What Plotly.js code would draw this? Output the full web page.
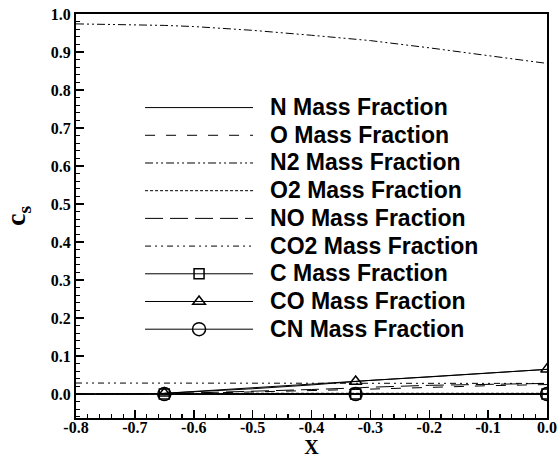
<!DOCTYPE html>
<html><head><meta charset="utf-8">
<script src="https://cdn.plot.ly/plotly-3.0.1.min.js"></script>
<style>
html,body{margin:0;padding:0;background:#fff;}
#chart{width:559px;height:459px;}
.legend .legendtext{font-size:23px !important;transform:translateX(12px);}
.legend .scrollbox{clip-path:none !important;}
</style></head><body><div id="chart"></div>
<script>
// x positions along the line
const xs  = [-0.8, -0.75, -0.7, -0.65, -0.6, -0.5, -0.4, -0.325, -0.3, -0.2, -0.1, 0.0];
// species mass fractions
const N   = [0, 0, 0, 0, 0, 0, 0, 0, 0, 0, 0, 0];
const O   = [0, 0, 0, 0.001, 0.002, 0.005, 0.009, 0.012, 0.013, 0.018, 0.022, 0.025];
const N2  = [0.974, 0.973, 0.972, 0.970, 0.967, 0.957, 0.944, 0.934, 0.930, 0.911, 0.891, 0.870];
const O2  = [0, 0, 0, 0.001, 0.001, 0.002, 0.002, 0.002, 0.002, 0.002, 0.002, 0.002];
const NO  = [0, 0, 0, 0.001, 0.003, 0.007, 0.012, 0.016, 0.018, 0.023, 0.026, 0.028];
const CO2 = [0.029, 0.029, 0.029, 0.029, 0.029, 0.029, 0.029, 0.029, 0.029, 0.028, 0.028, 0.028];
const C   = [0, 0, 0, 0, 0, 0, 0, 0, 0, 0, 0, 0];
const CO  = [0, 0, 0, 0.002, 0.006, 0.014, 0.024, 0.033, 0.036, 0.045, 0.055, 0.065];
const CN  = [0, 0, 0, 0, 0, 0, 0, 0, 0, 0, 0, 0];
// indices of the points that carry symbols
const markIdx = [3, 7, 11];
// tick labels
const xTickVals = [-0.8, -0.7, -0.6, -0.5, -0.4, -0.3, -0.2, -0.1, 0.0];
const xTickText = ['-0.8', '-0.7', '-0.6', '-0.5', '-0.4', '-0.3', '-0.2', '-0.1', '0.0'];
const yTickVals = [0.0, 0.1, 0.2, 0.3, 0.4, 0.5, 0.6, 0.7, 0.8, 0.9, 1.0];
const yTickText = ['0.0', '0.1', '0.2', '0.3', '0.4', '0.5', '0.6', '0.7', '0.8', '0.9', '1.0'];

const pick = arr => markIdx.map(i => arr[i]);

const plain = [
  {name: 'N Mass Fraction',   y: N,   dash: 'solid'},
  {name: 'O Mass Fraction',   y: O,   dash: '10px,11px'},
  {name: 'N2 Mass Fraction',  y: N2,  dash: '8px,3px,2px,3px,2px,3px'},
  {name: 'O2 Mass Fraction',  y: O2,  dash: '3px,2px'},
  {name: 'NO Mass Fraction',  y: NO,  dash: '18px,7px'},
  {name: 'CO2 Mass Fraction', y: CO2, dash: '6px,4px,2px,4px,2px,4px'}
];
const marked = [
  {name: 'C Mass Fraction',  y: C,  symbol: 'square-open',      size: 10},
  {name: 'CO Mass Fraction', y: CO, symbol: 'triangle-up-open', size: 11},
  {name: 'CN Mass Fraction', y: CN, symbol: 'circle-open',      size: 13}
];

const traces = [];
plain.forEach(s => traces.push({
  type: 'scatter', mode: 'lines', x: xs, y: s.y, name: s.name,
  line: {color: '#000', width: 1, dash: s.dash}
}));
marked.forEach(s => {
  traces.push({
    type: 'scatter', mode: 'lines', x: xs, y: s.y, name: s.name,
    legendgroup: s.name, showlegend: false,
    line: {color: '#000', width: 1}
  });
  traces.push({
    type: 'scatter', mode: 'lines+markers', x: pick(xs), y: pick(s.y), name: s.name,
    legendgroup: s.name,
    line: {color: '#000', width: 1},
    marker: {symbol: s.symbol, size: s.size, color: '#000', line: {color: '#000', width: 1.5}}
  });
});

const serif = 'Liberation Serif, Times New Roman, serif';
const tickFont = {family: serif, size: 16, color: '#000', weight: 'bold'};
const axisCommon = {
  showgrid: false, zeroline: false, showline: true, mirror: true,
  linecolor: '#000', linewidth: 2,
  ticks: 'inside', ticklen: 8, tickwidth: 1.5, tickcolor: '#000',
  tickfont: tickFont, tickmode: 'array',
  minor: {ticks: 'inside', ticklen: 4, tickwidth: 1.2, tickcolor: '#000', tickmode: 'linear', tick0: 0, dtick: 0.02}
};

const layout = {
  width: 559, height: 459,
  margin: {l: 76, r: 12, t: 14, b: 41},
  paper_bgcolor: '#fff', plot_bgcolor: '#fff',
  showlegend: true,
  legend: {
    x: 0.136, xanchor: 'left', y: 0.815, yanchor: 'top',
    bgcolor: 'rgba(0,0,0,0)', borderwidth: 0,
    itemwidth: 108, traceorder: 'normal',
    font: {family: 'Liberation Sans, Arial, sans-serif', size: 19, color: '#000', weight: 'bold'}
  },
  xaxis: Object.assign({}, axisCommon, {
    range: [-0.8, 0.0], tickvals: xTickVals, ticktext: xTickText, ticklabelstandoff: -6,
    title: {text: 'X', font: {family: serif, size: 20, color: '#000', weight: 'bold'}, standoff: 0}
  }),
  yaxis: Object.assign({}, axisCommon, {
    range: [-0.063, 1.0], tickvals: yTickVals, ticktext: yTickText,
    title: {text: 'c<sub>s</sub>', font: {family: serif, size: 28, color: '#000', weight: 'bold'}, standoff: 20}
  })
};

Plotly.newPlot('chart', traces, layout, {displayModeBar: false, staticPlot: true});
</script></body></html>
